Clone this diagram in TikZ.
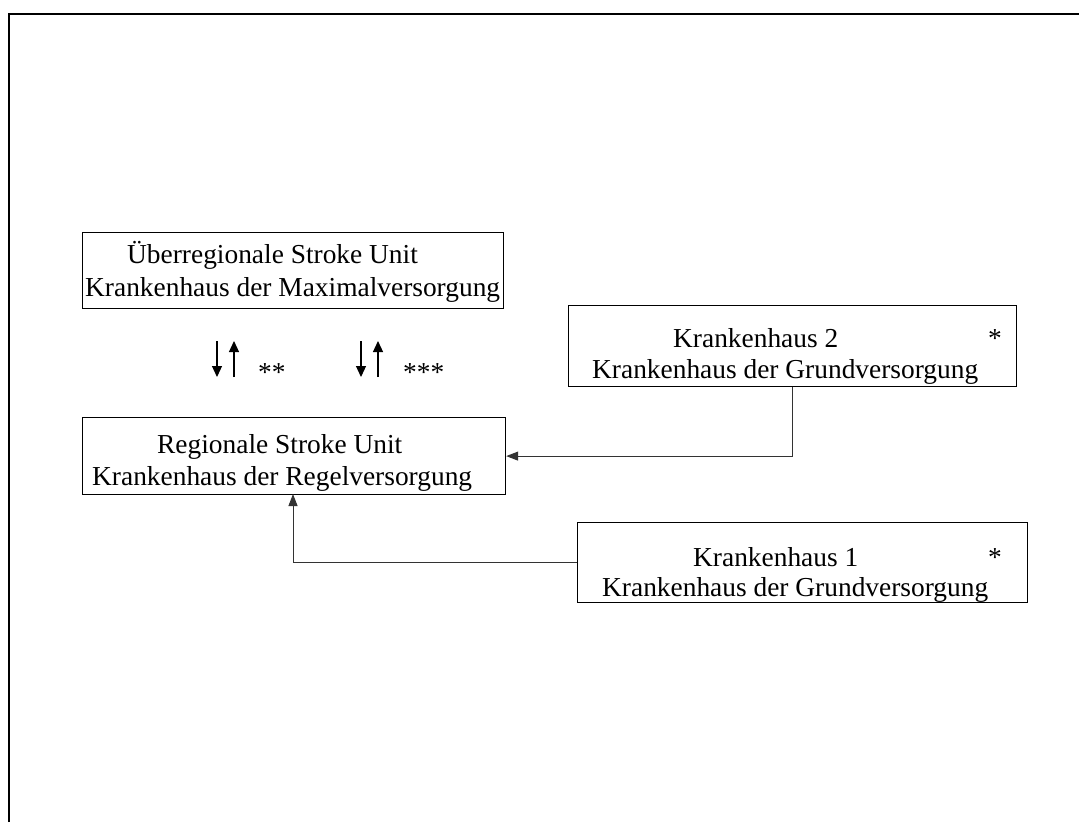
\documentclass[tikz,border=0pt]{standalone}
\usepackage{fontspec}
\setmainfont{Liberation Serif}
\usetikzlibrary{arrows.meta}

\begin{document}
\begin{tikzpicture}
[x=1pt,y=-1pt,
 box/.style={draw,line width=1.2pt,anchor=north west,inner sep=0pt},
 txt/.style={anchor=base west,inner sep=0pt,font=\fontsize{27.4}{33}\selectfont},
 link/.style={line width=1pt,draw=black!80,-{Triangle[length=12pt,width=9pt]}},
 pair/.style={line width=1.2pt,-{Triangle[length=11pt,width=10pt]}}]
\useasboundingbox (0,0) rectangle (1079,822);
% frame
\draw[line width=2pt] (9,822) -- (9,14) -- (1079,14);
% boxes
\node[box,minimum width=421pt,minimum height=76pt] (maxi) at (82,232) {};
\node[box,minimum width=448pt,minimum height=81pt] (kh2) at (568,305) {};
\node[box,minimum width=423pt,minimum height=77pt] (regio) at (82,417) {};
\node[box,minimum width=450pt,minimum height=80pt] (kh1) at (577,522) {};
% texts
\node[txt] (maxi1) at (127,263) {Überregionale Stroke Unit};
\node[txt] (maxi2) at (85,296) {Krankenhaus der Maximalversorgung};
\node[txt] (kh2a) at (673,347) {Krankenhaus 2};
\node[txt] (kh2s) at (988,347) {*};
\node[txt] (kh2b) at (592,378) {Krankenhaus der Grundversorgung};
\node[txt] (regio1) at (157,453) {Regionale Stroke Unit};
\node[txt] (regio2) at (92,485) {Krankenhaus der Regelversorgung};
\node[txt] (kh1a) at (693,566) {Krankenhaus 1};
\node[txt] (kh1s) at (988,566) {*};
\node[txt] (kh1b) at (602,596) {Krankenhaus der Grundversorgung};
% transfers
\foreach \x in {217,361}{
  \draw[pair] (\x,341) -- (\x,377);
  \draw[pair] (\x+17,377) -- (\x+17,341);
}
\node[txt] (ast2) at (258,381) {**};
\node[txt] (ast3) at (403,381) {***};
% links
\coordinate (regioin) at (293,494);
\draw[link] (kh2.south) |- (regio.east);
\draw[link] (kh1.west) -| (regioin);
\end{tikzpicture}
\end{document}
